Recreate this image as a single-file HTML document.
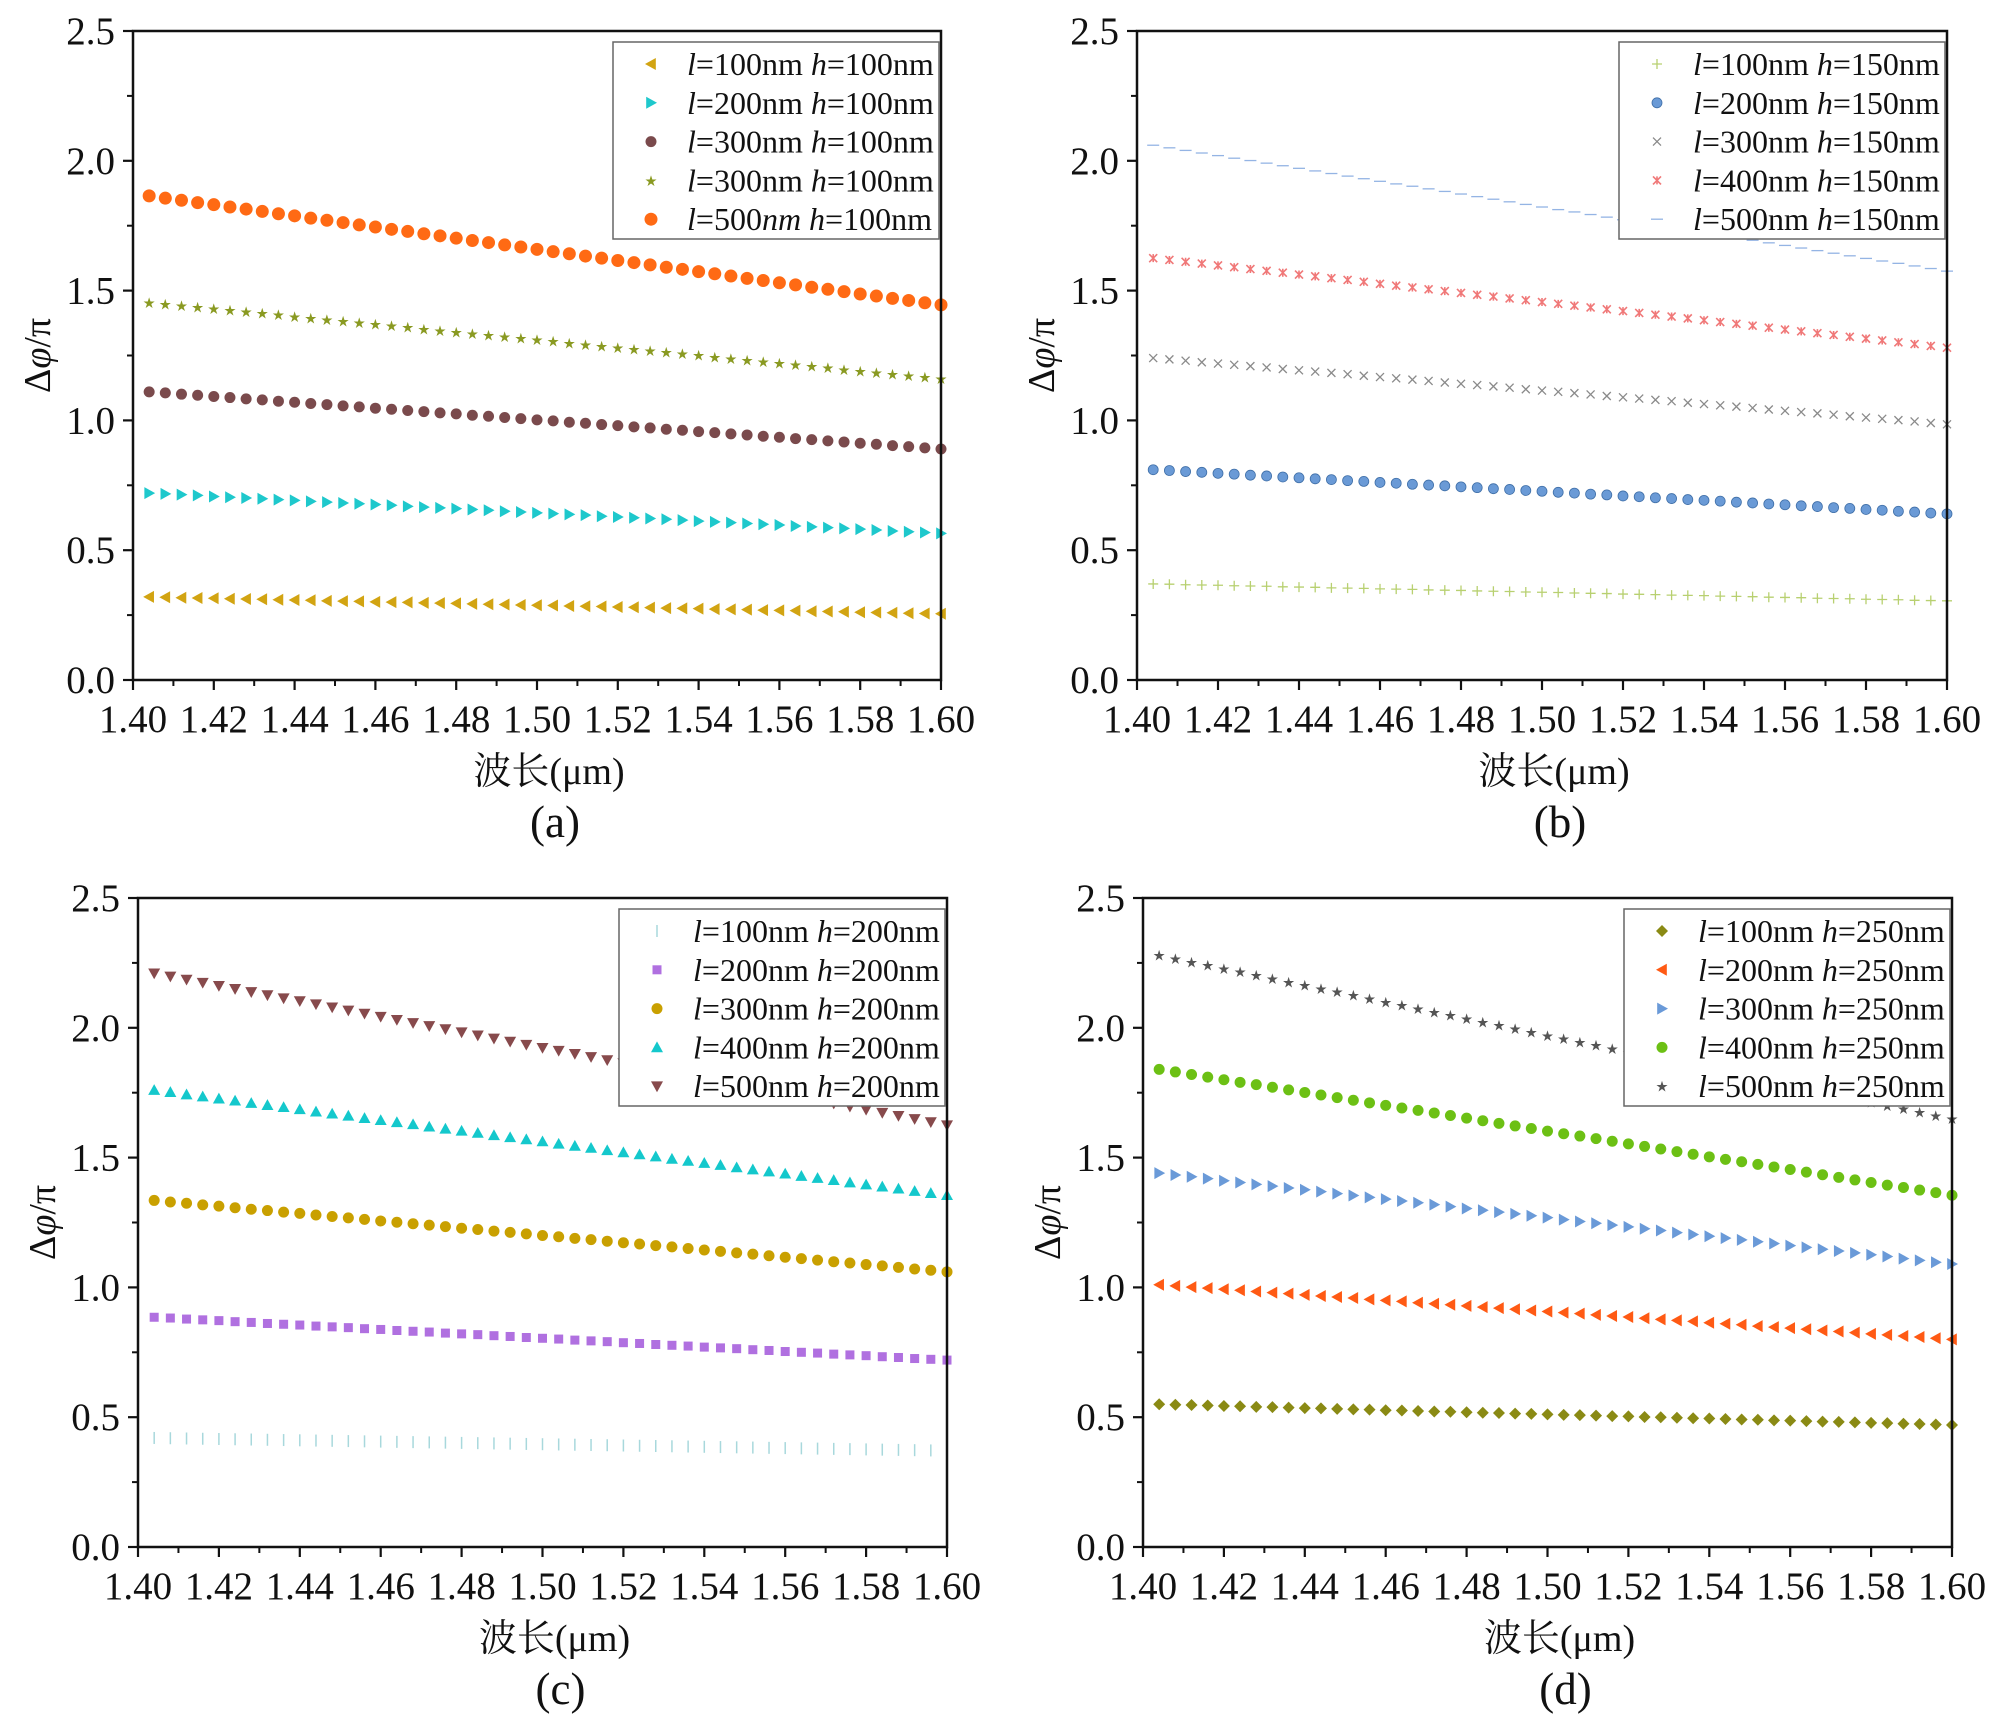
<!DOCTYPE html>
<html><head><meta charset="utf-8">
<style>
html,body{margin:0;padding:0;background:#fff;}
svg{display:block;}
text{font-family:"Liberation Serif","Noto Serif CJK SC",serif;fill:#111;}
</style></head>
<body>
<svg id="fig" width="2000" height="1735" viewBox="0 0 2000 1735" xmlns="http://www.w3.org/2000/svg"></svg>
<script>
const wavelengths=[1.404,1.408,1.412,1.416,1.420,1.424,1.428,1.432,1.436,1.440,1.444,1.448,1.452,1.456,1.460,1.464,1.468,1.472,1.476,1.480,1.484,1.488,1.492,1.496,1.500,1.504,1.508,1.512,1.516,1.520,1.524,1.528,1.532,1.536,1.540,1.544,1.548,1.552,1.556,1.560,1.564,1.568,1.572,1.576,1.580,1.584,1.588,1.592,1.596,1.600];
const xTicks=["1.40","1.42","1.44","1.46","1.48","1.50","1.52","1.54","1.56","1.58","1.60"];
const yTicks=["0.0","0.5","1.0","1.5","2.0","2.5"];

const a1=[0.320,0.319,0.317,0.316,0.315,0.313,0.312,0.311,0.309,0.308,0.307,0.305,0.304,0.303,0.301,0.300,0.299,0.297,0.296,0.295,0.293,0.292,0.291,0.289,0.288,0.287,0.285,0.284,0.283,0.281,0.280,0.279,0.277,0.276,0.275,0.273,0.272,0.271,0.269,0.268,0.267,0.265,0.264,0.263,0.261,0.260,0.259,0.257,0.256,0.255];
const a2=[0.720,0.717,0.714,0.711,0.707,0.704,0.701,0.698,0.695,0.692,0.688,0.685,0.682,0.679,0.676,0.673,0.669,0.666,0.663,0.660,0.657,0.654,0.650,0.647,0.644,0.641,0.638,0.635,0.631,0.628,0.625,0.622,0.619,0.616,0.612,0.609,0.606,0.603,0.600,0.597,0.593,0.590,0.587,0.584,0.581,0.578,0.574,0.571,0.568,0.565];
const a3=[1.110,1.106,1.101,1.097,1.092,1.088,1.083,1.079,1.074,1.070,1.065,1.061,1.056,1.052,1.047,1.043,1.038,1.034,1.029,1.025,1.020,1.016,1.011,1.007,1.002,0.998,0.993,0.989,0.984,0.980,0.975,0.971,0.966,0.962,0.957,0.953,0.948,0.944,0.939,0.935,0.930,0.926,0.921,0.917,0.912,0.908,0.903,0.899,0.894,0.890];
const a4=[1.455,1.449,1.443,1.437,1.431,1.425,1.419,1.413,1.407,1.401,1.395,1.389,1.383,1.377,1.371,1.365,1.359,1.353,1.347,1.341,1.335,1.329,1.323,1.317,1.311,1.305,1.299,1.293,1.287,1.281,1.275,1.269,1.263,1.257,1.251,1.245,1.239,1.233,1.227,1.221,1.215,1.209,1.203,1.197,1.191,1.185,1.179,1.173,1.167,1.161];
const a5=[1.865,1.856,1.848,1.839,1.831,1.822,1.814,1.805,1.796,1.788,1.779,1.771,1.762,1.753,1.745,1.736,1.728,1.719,1.711,1.702,1.693,1.685,1.676,1.668,1.659,1.650,1.642,1.633,1.625,1.616,1.608,1.599,1.590,1.582,1.573,1.565,1.556,1.547,1.539,1.530,1.522,1.513,1.505,1.496,1.487,1.479,1.470,1.462,1.453,1.445];

const b1=[0.370,0.369,0.367,0.366,0.365,0.363,0.362,0.361,0.359,0.358,0.357,0.355,0.354,0.353,0.351,0.350,0.349,0.347,0.346,0.345,0.343,0.342,0.341,0.339,0.338,0.337,0.335,0.334,0.333,0.331,0.330,0.329,0.327,0.326,0.325,0.323,0.322,0.321,0.319,0.318,0.317,0.315,0.314,0.313,0.311,0.310,0.309,0.307,0.306,0.305];
const b2=[0.810,0.807,0.803,0.800,0.796,0.793,0.789,0.786,0.782,0.779,0.775,0.772,0.768,0.765,0.761,0.758,0.754,0.751,0.748,0.744,0.741,0.737,0.734,0.730,0.727,0.723,0.720,0.716,0.713,0.709,0.706,0.702,0.699,0.695,0.692,0.689,0.685,0.682,0.678,0.675,0.671,0.668,0.664,0.661,0.657,0.654,0.650,0.647,0.643,0.640];
const b3=[1.240,1.235,1.230,1.224,1.219,1.214,1.209,1.204,1.198,1.193,1.188,1.183,1.178,1.172,1.167,1.162,1.157,1.152,1.146,1.141,1.136,1.131,1.126,1.120,1.115,1.110,1.105,1.100,1.094,1.089,1.084,1.079,1.074,1.068,1.063,1.058,1.053,1.048,1.042,1.037,1.032,1.027,1.022,1.016,1.011,1.006,1.001,0.996,0.990,0.985];
const b4=[1.625,1.618,1.611,1.604,1.597,1.590,1.583,1.576,1.569,1.562,1.555,1.548,1.541,1.534,1.526,1.519,1.512,1.505,1.498,1.491,1.484,1.477,1.470,1.463,1.456,1.449,1.442,1.435,1.428,1.421,1.414,1.407,1.400,1.393,1.386,1.379,1.372,1.365,1.357,1.350,1.343,1.336,1.329,1.322,1.315,1.308,1.301,1.294,1.287,1.280];
const b5=[2.060,2.050,2.040,2.030,2.020,2.010,2.001,1.991,1.981,1.971,1.961,1.951,1.941,1.931,1.921,1.911,1.902,1.892,1.882,1.872,1.862,1.852,1.842,1.832,1.822,1.812,1.803,1.793,1.783,1.773,1.763,1.753,1.743,1.733,1.723,1.713,1.704,1.694,1.684,1.674,1.664,1.654,1.644,1.634,1.624,1.614,1.605,1.595,1.585,1.575];

const c1=[0.420,0.419,0.418,0.417,0.416,0.415,0.414,0.413,0.412,0.411,0.410,0.409,0.408,0.407,0.406,0.405,0.404,0.403,0.402,0.401,0.400,0.399,0.398,0.397,0.396,0.395,0.394,0.393,0.392,0.391,0.390,0.389,0.388,0.387,0.386,0.385,0.384,0.383,0.382,0.381,0.380,0.379,0.378,0.377,0.376,0.375,0.374,0.373,0.372,0.371];
const c2=[0.885,0.882,0.878,0.875,0.872,0.868,0.865,0.861,0.858,0.855,0.851,0.848,0.845,0.841,0.838,0.834,0.831,0.828,0.824,0.821,0.818,0.814,0.811,0.807,0.804,0.801,0.797,0.794,0.791,0.787,0.784,0.780,0.777,0.774,0.770,0.767,0.764,0.760,0.757,0.753,0.750,0.747,0.743,0.740,0.737,0.733,0.730,0.726,0.723,0.720];
const c3=[1.335,1.329,1.324,1.318,1.313,1.307,1.301,1.296,1.290,1.285,1.279,1.273,1.268,1.262,1.256,1.251,1.245,1.240,1.234,1.228,1.223,1.217,1.212,1.206,1.200,1.195,1.189,1.184,1.178,1.172,1.167,1.161,1.156,1.150,1.144,1.139,1.133,1.128,1.122,1.116,1.111,1.105,1.099,1.094,1.088,1.083,1.077,1.071,1.066,1.060];
const c4=[1.760,1.752,1.743,1.735,1.727,1.719,1.710,1.702,1.694,1.686,1.677,1.669,1.661,1.652,1.644,1.636,1.628,1.619,1.611,1.603,1.595,1.586,1.578,1.570,1.562,1.553,1.545,1.537,1.528,1.520,1.512,1.504,1.495,1.487,1.479,1.471,1.462,1.454,1.446,1.438,1.429,1.421,1.413,1.404,1.396,1.388,1.380,1.371,1.363,1.355];
const c5=[2.210,2.198,2.186,2.174,2.162,2.150,2.138,2.126,2.114,2.103,2.091,2.079,2.067,2.055,2.043,2.031,2.019,2.007,1.995,1.983,1.971,1.959,1.947,1.935,1.923,1.912,1.900,1.888,1.876,1.864,1.852,1.840,1.828,1.816,1.804,1.792,1.780,1.768,1.756,1.744,1.732,1.721,1.709,1.697,1.685,1.673,1.661,1.649,1.637,1.625];

const d1=[0.550,0.548,0.547,0.545,0.543,0.542,0.540,0.539,0.537,0.535,0.534,0.532,0.530,0.529,0.527,0.526,0.524,0.522,0.521,0.519,0.517,0.516,0.514,0.513,0.511,0.509,0.508,0.506,0.504,0.503,0.501,0.500,0.498,0.496,0.495,0.493,0.491,0.490,0.488,0.487,0.485,0.483,0.482,0.480,0.478,0.477,0.475,0.474,0.472,0.470];
const d2=[1.010,1.006,1.001,0.997,0.993,0.989,0.984,0.980,0.976,0.971,0.967,0.963,0.959,0.954,0.950,0.946,0.941,0.937,0.933,0.929,0.924,0.920,0.916,0.911,0.907,0.903,0.899,0.894,0.890,0.886,0.881,0.877,0.873,0.869,0.864,0.860,0.856,0.851,0.847,0.843,0.839,0.834,0.830,0.826,0.821,0.817,0.813,0.809,0.804,0.800];
const d3=[1.440,1.433,1.426,1.419,1.411,1.404,1.397,1.390,1.383,1.376,1.369,1.361,1.354,1.347,1.340,1.333,1.326,1.319,1.311,1.304,1.297,1.290,1.283,1.276,1.269,1.261,1.254,1.247,1.240,1.233,1.226,1.219,1.211,1.204,1.197,1.190,1.183,1.176,1.169,1.161,1.154,1.147,1.140,1.133,1.126,1.119,1.111,1.104,1.097,1.090];
const d4=[1.840,1.830,1.820,1.810,1.800,1.790,1.781,1.771,1.761,1.751,1.741,1.731,1.721,1.711,1.701,1.691,1.682,1.672,1.662,1.652,1.642,1.632,1.622,1.612,1.602,1.592,1.583,1.573,1.563,1.553,1.543,1.533,1.523,1.513,1.503,1.493,1.484,1.474,1.464,1.454,1.444,1.434,1.424,1.414,1.404,1.394,1.385,1.375,1.365,1.355];
const d5=[2.280,2.267,2.254,2.241,2.229,2.216,2.203,2.190,2.177,2.164,2.151,2.139,2.126,2.113,2.100,2.087,2.074,2.061,2.049,2.036,2.023,2.010,1.997,1.984,1.971,1.959,1.946,1.933,1.920,1.907,1.894,1.881,1.869,1.856,1.843,1.830,1.817,1.804,1.791,1.779,1.766,1.753,1.740,1.727,1.714,1.701,1.689,1.676,1.663,1.650];

const legendA=["100nm","200nm","300nm","300nm","500nm"];
const legendB=["100nm","200nm","300nm","400nm","500nm"];

const NS="http://www.w3.org/2000/svg";
const svg=document.getElementById('fig');
function mk(tag,attrs,parent){const e=document.createElementNS(NS,tag);for(const k in attrs)e.setAttribute(k,attrs[k]);(parent||svg).appendChild(e);return e;}

function marker(g,type,color,x,y){
  let e;
  const s=6;
  if(type==='ltri'){e=mk('polygon',{points:`${x-s},${y} ${x+s*0.8},${y-s} ${x+s*0.8},${y+s}`,fill:color},g);}
  else if(type==='rtri'){e=mk('polygon',{points:`${x+s},${y} ${x-s*0.8},${y-s} ${x-s*0.8},${y+s}`,fill:color},g);}
  else if(type==='utri'){e=mk('polygon',{points:`${x},${y-s} ${x-s},${y+s*0.8} ${x+s},${y+s*0.8}`,fill:color},g);}
  else if(type==='dtri'){e=mk('polygon',{points:`${x},${y+s} ${x-s},${y-s*0.8} ${x+s},${y-s*0.8}`,fill:color},g);}
  else if(type==='circle'){e=mk('circle',{cx:x,cy:y,r:5.5,fill:color},g);}
  else if(type==='bigcircle'){e=mk('circle',{cx:x,cy:y,r:6.5,fill:color},g);}
  else if(type==='sphere'){e=mk('circle',{cx:x,cy:y,r:5,fill:color,stroke:'#3f6fa8','stroke-width':0.8},g);}
  else if(type==='star'){e=mk('text',{x:x,y:y+4.5,'font-size':12,'text-anchor':'middle',fill:color,style:`fill:${color}`},g);e.textContent='★';}
  else if(type==='plus'){e=mk('path',{d:`M${x-5} ${y}H${x+5}M${x} ${y-5}V${y+5}`,stroke:color,'stroke-width':1.3,fill:'none'},g);}
  else if(type==='cross'){e=mk('path',{d:`M${x-4} ${y-4}L${x+4} ${y+4}M${x-4} ${y+4}L${x+4} ${y-4}`,stroke:color,'stroke-width':1.3,fill:'none'},g);}
  else if(type==='asterisk'){e=mk('path',{d:`M${x-4} ${y-4}L${x+4} ${y+4}M${x-4} ${y+4}L${x+4} ${y-4}M${x} ${y-4}V${y+4}`,stroke:color,'stroke-width':1.6,fill:'none'},g);}
  else if(type==='dash'){e=mk('path',{d:`M${x-6} ${y}H${x+6}`,stroke:color,'stroke-width':1.3,fill:'none'},g);}
  else if(type==='vtick'){e=mk('path',{d:`M${x} ${y-6}V${y+6}`,stroke:color,'stroke-width':1.5,fill:'none'},g);}
  else if(type==='square'){e=mk('rect',{x:x-4.5,y:y-4.5,width:9,height:9,fill:color},g);}
  else if(type==='diamond'){e=mk('polygon',{points:`${x},${y-6} ${x+6},${y} ${x},${y+6} ${x-6},${y}`,fill:color},g);}
  return e;
}

const panels=[
 {id:'a',L:133,R:941,T:31,B:680,h:'100nm',labels:legendA,italic500:true,
  series:[[a1,'ltri','#d2a412'],[a2,'rtri','#1ec8cc'],[a3,'circle','#7a4a4c'],[a4,'star','#8a9a22'],[a5,'bigcircle','#ff6a14']]},
 {id:'b',L:1137,R:1947,T:31,B:680,h:'150nm',labels:legendB,
  series:[[b1,'plus','#b8d070'],[b2,'sphere','#6a9ad6'],[b3,'cross','#8a8a8a'],[b4,'asterisk','#f07878'],[b5,'dash','#94b4e4']]},
 {id:'c',L:138,R:947,T:898,B:1547,h:'200nm',labels:legendB,
  series:[[c1,'vtick','#a8d8dc'],[c2,'square','#b070e0'],[c3,'circle','#c9a000'],[c4,'utri','#14c8cc'],[c5,'dtri','#874a4c']]},
 {id:'d',L:1143,R:1952,T:898,B:1547,h:'250nm',labels:legendB,
  series:[[d1,'diamond','#8a8a14'],[d2,'ltri','#ff5a14'],[d3,'rtri','#6a9ad8'],[d4,'circle','#6cc014'],[d5,'star','#555555']]}
];

panels.forEach(p=>{
  const g=mk('g',{});
  
  
  const xs=v=>p.L+(v-1.4)/0.2*(p.R-p.L);
  const ys=v=>p.B-v/2.5*(p.B-p.T);
  p.series.forEach((s,si)=>{
    const sg=mk('g',{},g);
    
    
    s[0].forEach((v,i)=>{
      const m=marker(sg,s[1],s[2],xs(wavelengths[i]),ys(v));
      
      
    });
  });
  const fr=mk('rect',{x:p.L,y:p.T,width:p.R-p.L,height:p.B-p.T,fill:'none',stroke:'#111','stroke-width':2.5},g);
  
  
  xTicks.forEach((t,i)=>{
    const v=parseFloat(t);const x=xs(v);
    mk('line',{x1:x,y1:p.B,x2:x,y2:p.B+10,stroke:'#111','stroke-width':2.2},g);
    if(i<xTicks.length-1){const xm=xs(v+0.01);mk('line',{x1:xm,y1:p.B,x2:xm,y2:p.B+6,stroke:'#111','stroke-width':2},g);}
    const tx=mk('text',{x:x,y:p.B+52,'font-size':39,'text-anchor':'middle'},g);
    tx.textContent=t;
    
    
  });
  yTicks.forEach((t,i)=>{
    const v=parseFloat(t);const y=ys(v);
    mk('line',{x1:p.L-10,y1:y,x2:p.L,y2:y,stroke:'#111','stroke-width':2.2},g);
    if(i<yTicks.length-1){const ym=ys(v+0.25);mk('line',{x1:p.L-6,y1:ym,x2:p.L,y2:ym,stroke:'#111','stroke-width':2},g);}
    const tx=mk('text',{x:p.L-18,y:y+13,'font-size':39,'text-anchor':'end'},g);
    tx.textContent=t;
    
    
  });
  const xt=mk('text',{x:(p.L+p.R)/2+12,y:p.B+104,'font-size':38,'text-anchor':'middle'},g);
  xt.textContent='波长(μm)';
  
  
  const cy=(p.T+p.B)/2;
  const yt=mk('text',{x:0,y:0,'font-size':38,'text-anchor':'middle',transform:`translate(${p.L-83},${cy}) rotate(-90)`},g);
  yt.innerHTML='Δ<tspan font-style="italic">φ</tspan>/π';
  
  
  const cap=mk('text',{x:(p.L+p.R)/2+18,y:p.B+157,'font-size':45,'text-anchor':'middle'},g);
  cap.textContent='('+p.id+')';
  
  
  const lg=mk('g',{},g);
  
  
  mk('rect',{x:p.R-328,y:p.T+11,width:326,height:197,fill:'#fff',stroke:'#666','stroke-width':1.5},lg);
  p.series.forEach((s,k)=>{
    const y=p.T+33+k*38.8;
    const e=mk('g',{},lg);
    
    
    marker(e,s[1],s[2],p.R-290,y);
    const t=mk('text',{x:p.R-254,y:y+11,'font-size':32},e);
    const nmItalic=(p.italic500&&k===4);
    t.innerHTML='<tspan font-style="italic">l</tspan>='+(nmItalic?'500<tspan font-style="italic">nm</tspan>':p.labels[k])+' <tspan font-style="italic">h</tspan>='+p.h;
  });
});
</script>
</body></html>
